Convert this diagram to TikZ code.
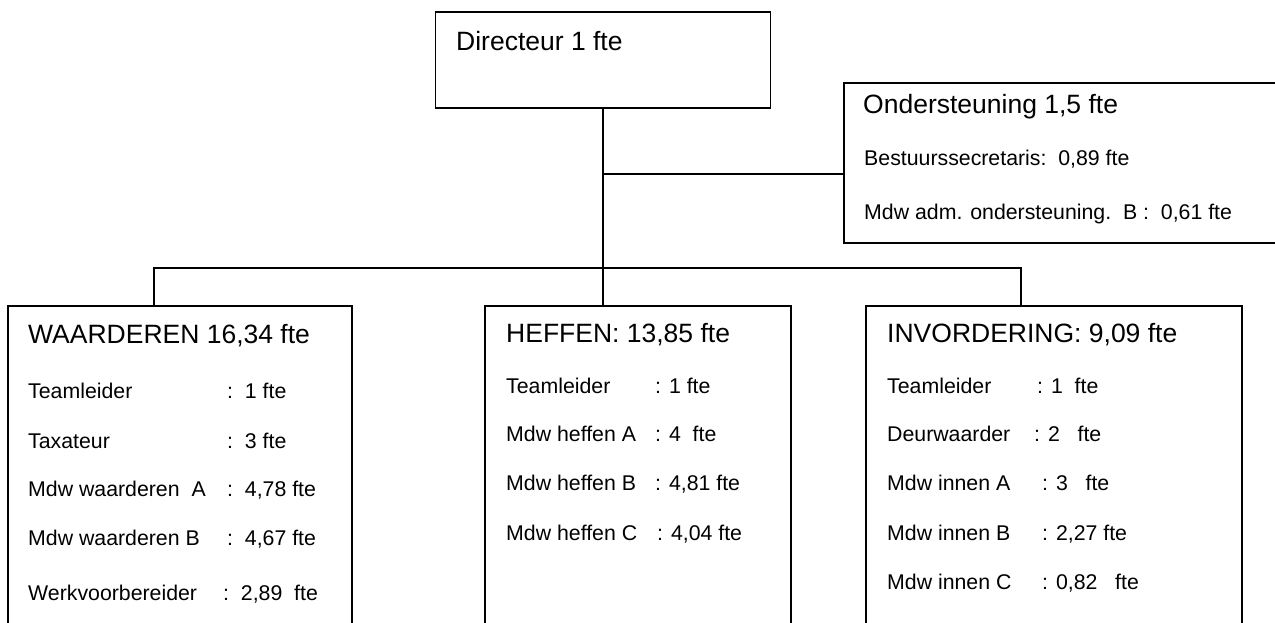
\documentclass[tikz,border=0pt]{standalone}
\usepackage{fontspec}
\setmainfont{Liberation Sans}
\usepackage{tikz}
\usetikzlibrary{positioning}
\tikzstyle{box} = [draw, rectangle, inner sep=0pt, line width=1.5pt]
\tikzstyle{head} = [inner sep=0pt, anchor=base west, font=\fontsize{26.5}{30}\selectfont]
\tikzstyle{item} = [inner sep=0pt, anchor=base west, font=\fontsize{21.3}{25}\selectfont]
\tikzstyle{link} = [line width=1.5pt]
\tikzstyle{coord} = [coordinate]

\begin{document}
\begin{tikzpicture}[x=1pt, y=1pt]
	\useasboundingbox (0,0) rectangle (1275,-622);
	\clip (0,0) rectangle (1275,-622);

	% boxes
	\node [box, minimum width=335pt, minimum height=96pt] (dir) at (603,-60) {};
	\node [box, minimum width=460pt, minimum height=160pt] (onder) at (1074,-163) {};
	\node [box, minimum width=344pt, minimum height=334pt] (waard) at (180,-473) {};
	\node [box, minimum width=306pt, minimum height=334pt] (heffen) at (638,-473) {};
	\node [box, minimum width=376pt, minimum height=334pt] (invord) at (1054,-473) {};

	% branch points
	\node [coord] (tap) at (603,-174) {};
	\node [coord] (split) at (603,-268) {};
	\node [coord] (busL) at (154,-268) {};
	\node [coord] (busR) at (1021,-268) {};

	\draw [link] (dir) -- (split) -- (split |- heffen.north);
	\draw [link] (tap) -- (tap -| onder.west);
	\draw [link] (busL |- waard.north) -- (busL) -- (busR) -- (busR |- invord.north);

	% directeur
	\node [head] (dirT) at (456,-50) {Directeur 1 fte};

	% ondersteuning
	\node [head] (onderT) at (863,-113) {Ondersteuning 1,5 fte};
	\node [item] (onder1) at (864,-165) {Bestuurssecretaris:~~0,89 fte};
	\node [item] (onder2) at (864,-219) {Mdw adm. ondersteuning.~~B :~~0,61 fte};

	% waarderen
	\node [head] (waardT) at (28,-343) {WAARDEREN 16,34 fte};
	\node [item] (waard1) at (28,-398) {Teamleider};
	\node [item] (waard1v) at (227,-398) {:~~1 fte};
	\node [item] (waard2) at (28,-448) {Taxateur};
	\node [item] (waard2v) at (227,-448) {:~~3 fte};
	\node [item] (waard3) at (28,-496) {Mdw waarderen~~A};
	\node [item] (waard3v) at (227,-496) {:~~4,78 fte};
	\node [item] (waard4) at (28,-545) {Mdw waarderen B};
	\node [item] (waard4v) at (227,-545) {:~~4,67 fte};
	\node [item] (waard5) at (28,-600) {Werkvoorbereider};
	\node [item] (waard5v) at (223,-600) {:~~2,89~~fte};

	% heffen
	\node [head] (heffenT) at (506,-342) {HEFFEN: 13,85 fte};
	\node [item] (heffen1) at (506,-393) {Teamleider};
	\node [item] (heffen1v) at (655,-393) {: 1 fte};
	\node [item] (heffen2) at (506,-441) {Mdw heffen A};
	\node [item] (heffen2v) at (655,-441) {: 4~~fte};
	\node [item] (heffen3) at (506,-490) {Mdw heffen B};
	\node [item] (heffen3v) at (655,-490) {: 4,81 fte};
	\node [item] (heffen4) at (506,-540) {Mdw heffen C};
	\node [item] (heffen4v) at (657,-540) {: 4,04 fte};

	% invordering
	\node [head] (invordT) at (887,-342) {INVORDERING: 9,09 fte};
	\node [item] (invord1) at (887,-393) {Teamleider};
	\node [item] (invord1v) at (1037,-393) {: 1~~fte};
	\node [item] (invord2) at (887,-441) {Deurwaarder};
	\node [item] (invord2v) at (1034,-441) {: 2~~~fte};
	\node [item] (invord3) at (887,-490) {Mdw innen A};
	\node [item] (invord3v) at (1042,-490) {: 3~~~fte};
	\node [item] (invord4) at (887,-540) {Mdw innen B};
	\node [item] (invord4v) at (1042,-540) {: 2,27 fte};
	\node [item] (invord5) at (887,-589) {Mdw innen C};
	\node [item] (invord5v) at (1042,-589) {: 0,82~~~fte};
\end{tikzpicture}
\end{document}
